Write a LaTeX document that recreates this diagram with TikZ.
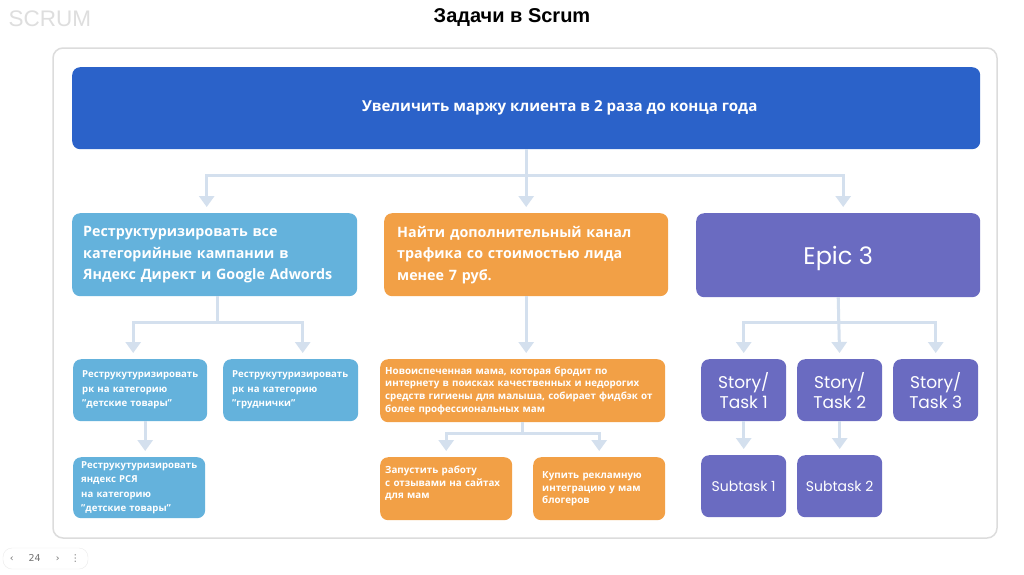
\documentclass[tikz,border=0pt]{standalone}
\usepackage{fontspec}
\setmainfont{Open Sans}
\newfontfamily\headfont{Liberation Sans}
\newfontfamily\epicfont{Poppins}
\newfontfamily\navfont{DejaVu Sans}
\usetikzlibrary{positioning,arrows.meta,calc}
\definecolor{goalblue}{HTML}{2B62C9}
\definecolor{epicblue}{HTML}{64B2DC}
\definecolor{epicorange}{HTML}{F2A046}
\definecolor{epicviolet}{HTML}{6A6BC1}
\definecolor{linkgray}{HTML}{D4E0EE}
\definecolor{framegray}{HTML}{DCDCDC}
\newcommand{\bigtxt}{\fontsize{14.3}{21.5}\selectfont\bfseries}
\newcommand{\smalltxt}{\fontsize{9.6}{14.5}\selectfont\bfseries}
\newcommand{\tinytxt}{\fontsize{9.8}{12.6}\selectfont\bfseries}

\begin{document}
\begin{tikzpicture}[x=1pt,y=-1pt,
    box/.style={rounded corners=8pt, text=white, inner ysep=0pt, anchor=north west, align=left},
    bluebox/.style={box, fill=epicblue},
    orangebox/.style={box, fill=epicorange},
    violetbox/.style={box, fill=epicviolet, align=center, inner xsep=0pt, font=\epicfont},
    link/.style={draw=linkgray, line width=3pt},
    arr/.style={link, -{Triangle[width=15pt,length=11pt]}, shorten >=6pt},
  ]
  \useasboundingbox[fill=white] (0,0) rectangle (1024,574);

  % heading and frame
  \node[text=black!13, font=\headfont\fontsize{22.5}{22.5}\selectfont, anchor=west] (scrum) at (5,19) {SCRUM};
  \node[font=\headfont\bfseries\fontsize{20}{20}\selectfont] (title) at (512,18) {Задачи в Scrum};
  \draw[framegray, line width=1.5pt, rounded corners=10pt] (53,48) rectangle (997,538);

  % goal
  \node[box, fill=goalblue, align=center, inner sep=0pt, minimum width=908, minimum height=82, font=\fontsize{15.1}{20}\selectfont\bfseries]
    (goal) at (72,67) {\hspace*{67pt}Увеличить маржу клиента в 2 раза до конца года};

  % epics
  \node[bluebox, inner xsep=11pt, text width=263, minimum height=83, font=\bigtxt] (l1) at (72,213)
    {Реструктуризировать все\\категорийные кампании в\\Яндекс Директ и Google Adwords};
  \node[orangebox, inner xsep=13pt, text width=258, minimum height=83, font=\bigtxt] (m1) at (384,213)
    {Найти дополнительный канал\\трафика со стоимостью лида\\менее 7 руб.};
  \node[violetbox, minimum width=284, minimum height=84, text depth=0pt, font=\epicfont\fontsize{24}{24}\selectfont] (epic) at (696,213) {Epic 3};

  % blue branch
  \node[bluebox, inner xsep=9pt, text width=116, minimum height=62, font=\smalltxt] (l2a) at (73,359)
    {Реструкутуризировать\\рк на категорию\\"детские товары"};
  \node[bluebox, inner xsep=9pt, text width=117, minimum height=62, font=\smalltxt] (l2b) at (223,359)
    {Реструкутуризировать\\рк на категорию\\"груднички"};
  \node[bluebox, inner xsep=8pt, text width=116, minimum height=61, font=\smalltxt] (l3) at (73,457)
    {Реструкутуризировать\\яндекс РСЯ\\на категорию\\"детские товары"};

  % orange branch
  \node[orangebox, inner xsep=5pt, text width=275, minimum height=63, font=\tinytxt] (m2) at (380,359)
    {Новоиспеченная мама, которая бродит по\\интернету в поисках качественных и недорогих\\средств гигиены для малыша, собирает фидбэк от\\более профессиональных мам};
  \node[orangebox, inner xsep=5pt, text width=122, minimum height=63, font=\tinytxt] (m3a) at (380,457)
    {Запустить работу\\с отзывами на сайтах\\для мам\\\mbox{}};
  \node[orangebox, inner xsep=9pt, text width=114, minimum height=63, font=\tinytxt] (m3b) at (533,457)
    {Купить рекламную\\интеграцию у мам\\блогеров};

  % violet branch
  \node[violetbox, minimum width=85, minimum height=62, font=\epicfont\fontsize{17}{20}\selectfont] (s1) at (701,359) {Story/\\Task 1};
  \node[violetbox, minimum width=85, minimum height=62, font=\epicfont\fontsize{17}{20}\selectfont] (s2) at (797,359) {Story/\\Task 2};
  \node[violetbox, minimum width=85, minimum height=62, font=\epicfont\fontsize{17}{20}\selectfont] (s3) at (893,359) {Story/\\Task 3};
  \node[violetbox, minimum width=85, minimum height=62, font=\epicfont\fontsize{14}{14}\selectfont] (sub1) at (701,455) {Subtask 1};
  \node[violetbox, minimum width=85, minimum height=62, font=\epicfont\fontsize{14}{14}\selectfont] (sub2) at (797,455) {Subtask 2};

  % connectors
  \draw[arr] (goal.south) -- ++(0,26) -| ([xshift=-8]l1.north);
  \draw[arr] (goal.south) -- ++(0,26) -| ([xshift=5]epic.north);
  \draw[arr] (goal.south) -- (m1.north);
  \draw[arr] ([xshift=3]l1.south) -- ++(0,26) -| ([xshift=-7]l2a.north);
  \draw[arr] ([xshift=3]l1.south) -- ++(0,26) -| ([xshift=12]l2b.north);
  \draw[arr] ([xshift=5]l2a.south) -- ([xshift=5]l2a.south |- l3.north);
  \draw[arr] (m1.south) -- (m1.south |- m2.north);
  \draw[arr] (m2.south) -- ++(0,11) -| (m3a.north);
  \draw[arr] (m2.south) -- ++(0,11) -| (m3b.north);
  \draw[arr] (epic.south) -- ++(0,25) -| (s1.north);
  \draw[arr] (epic.south) -- ++(0,25) -| (s3.north);
  \draw[arr] (epic.south) -- (s2.north);
  \draw[arr] (s1.south) -- (sub1.north);
  \draw[arr] (s2.south) -- (sub2.north);

  % page navigation
  \draw[black!8, fill=white, rounded corners=9pt] (3,548) rectangle (88,569);
  \node[text=black!55, font=\navfont\fontsize{9.5}{9.5}\selectfont] (nav) at (45,558.5) {‹\hspace{15pt}24\hspace{15pt}›\hspace{11pt}⋮};
\end{tikzpicture}
\end{document}
